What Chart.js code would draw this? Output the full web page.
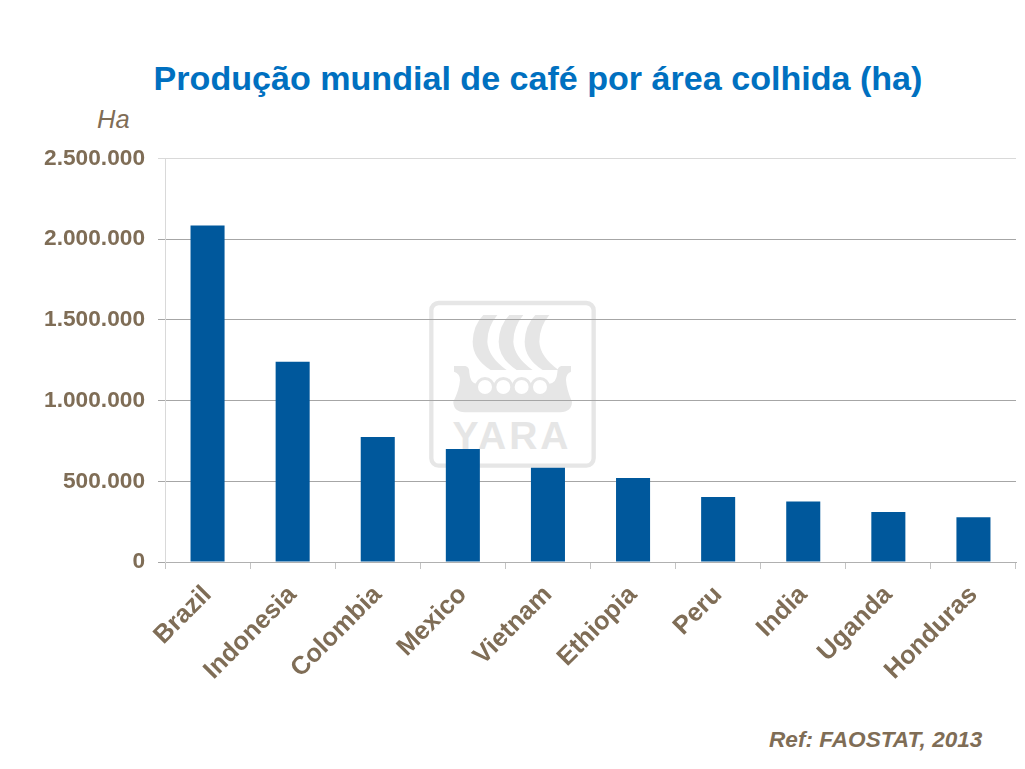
<!DOCTYPE html>
<html>
<head>
<meta charset="utf-8">
<script src="https://cdn.jsdelivr.net/npm/chart.js@4"></script>
<style>
html,body{margin:0;padding:0;background:#fff;overflow:hidden}
#page{position:relative;width:1025px;height:769px;font-family:"Liberation Sans",Arial,sans-serif}
#logo{position:absolute;left:0;top:0}
#box{position:absolute;left:0;top:0;width:1025px;height:769px}
.txt{position:absolute;white-space:nowrap}
#title{left:0;width:1076px;top:58px;text-align:center;font-size:34.1px;line-height:40px;font-weight:bold;color:#0070c0}
#unit{left:97px;top:104px;font-size:25.5px;line-height:30px;font-style:italic;color:#7f6d56}
#ref{left:769px;top:727px;font-size:22.6px;line-height:26px;font-weight:bold;font-style:italic;color:#7f6d56}
</style>
</head>
<body>
<div id="page">
<svg id="logo" width="1025" height="769">
  <g transform="translate(400,280) scale(0.3333)" fill="#e6e6e6">
    <rect x="94" y="69" width="487" height="488" rx="22" fill="none" stroke="#e6e6e6" stroke-width="13"/>
    <path d="M250 105H292Q262 140 262 185Q264 230 320 270H272Q218 235 218 185Q220 135 250 105Z"/>
    <path d="M328 105H370Q340 140 340 185Q342 230 398 270H350Q296 235 296 185Q298 135 328 105Z"/>
    <path d="M406 105H448Q418 140 418 185Q420 230 476 270H428Q374 235 374 185Q376 135 406 105Z"/>
    <path d="M162 258H196Q208 260 208 278Q210 310 232 312H445Q470 310 472 278Q472 260 484 258H513V275Q498 280 498 300Q500 330 516 365Q516 395 480 397H195Q160 395 160 365Q178 330 180 300Q180 280 162 275Z"/>
    <circle cx="255" cy="321" r="30"/>
    <circle cx="310" cy="321" r="30"/>
    <circle cx="365" cy="321" r="30"/>
    <circle cx="420" cy="321" r="30"/>
    <g fill="#fff">
      <circle cx="255" cy="321" r="21"/>
      <circle cx="310" cy="321" r="21"/>
      <circle cx="365" cy="321" r="21"/>
      <circle cx="420" cy="321" r="21"/>
    </g>
  </g>
  <text x="512" y="449" text-anchor="middle" font-family="Liberation Sans" font-weight="bold" font-size="39" letter-spacing="3" fill="#e6e6e6">YARA</text>
</svg>
<div class="txt" id="title">Produção mundial de café por área colhida (ha)</div>
<div class="txt" id="unit">Ha</div>
<div class="txt" id="ref">Ref: FAOSTAT, 2013</div>
<div id="box"><canvas id="chart" width="1025" height="769"></canvas></div>
</div>
<script>
const countries=["Brazil","Indonesia","Colombia","Mexico","Vietnam","Ethiopia","Peru","India","Uganda","Honduras"];
const harvestedArea=[2085000,1240000,775000,700000,584000,520000,402000,375000,310000,278000];
const yTickLabels=["0","500.000","1.000.000","1.500.000","2.000.000","2.500.000"];

const labelColor="#7f6d56";

new Chart(document.getElementById("chart"),{
  type:"bar",
  data:{
    labels:countries,
    datasets:[{
      data:harvestedArea,
      backgroundColor:"#00589c",
      barPercentage:0.4,
      categoryPercentage:1
    }]
  },
  options:{
    responsive:false,
    animation:false,
    devicePixelRatio:1,
    layout:{padding:{top:158.5,right:9,left:0,bottom:0}},
    plugins:{legend:{display:false},tooltip:{enabled:false},title:{display:false}},
    scales:{
      x:{
        afterFit(scale){scale.height=207},
        border:{color:"#b0b0b0",width:1},
        grid:{drawOnChartArea:false,color:"#c4c4c4",tickLength:7},
        ticks:{color:labelColor,font:{family:"Liberation Sans",size:25.5,weight:"bold"},maxRotation:45,minRotation:45,padding:11}
      },
      y:{
        min:0,
        max:2500000,
        afterFit(scale){scale.width=165},
        border:{color:"#d9d9d9",width:1},
        grid:{
          color:ctx=>ctx.index==5?"#d9d9d9":"#a6a6a6",
          tickLength:7
        },
        ticks:{
          stepSize:500000,
          color:labelColor,
          font:{family:"Liberation Sans",size:22.7,weight:"bold"},
          padding:13,
          callback:(v,i)=>yTickLabels[i]
        }
      }
    }
  }
});
</script>
</body>
</html>
